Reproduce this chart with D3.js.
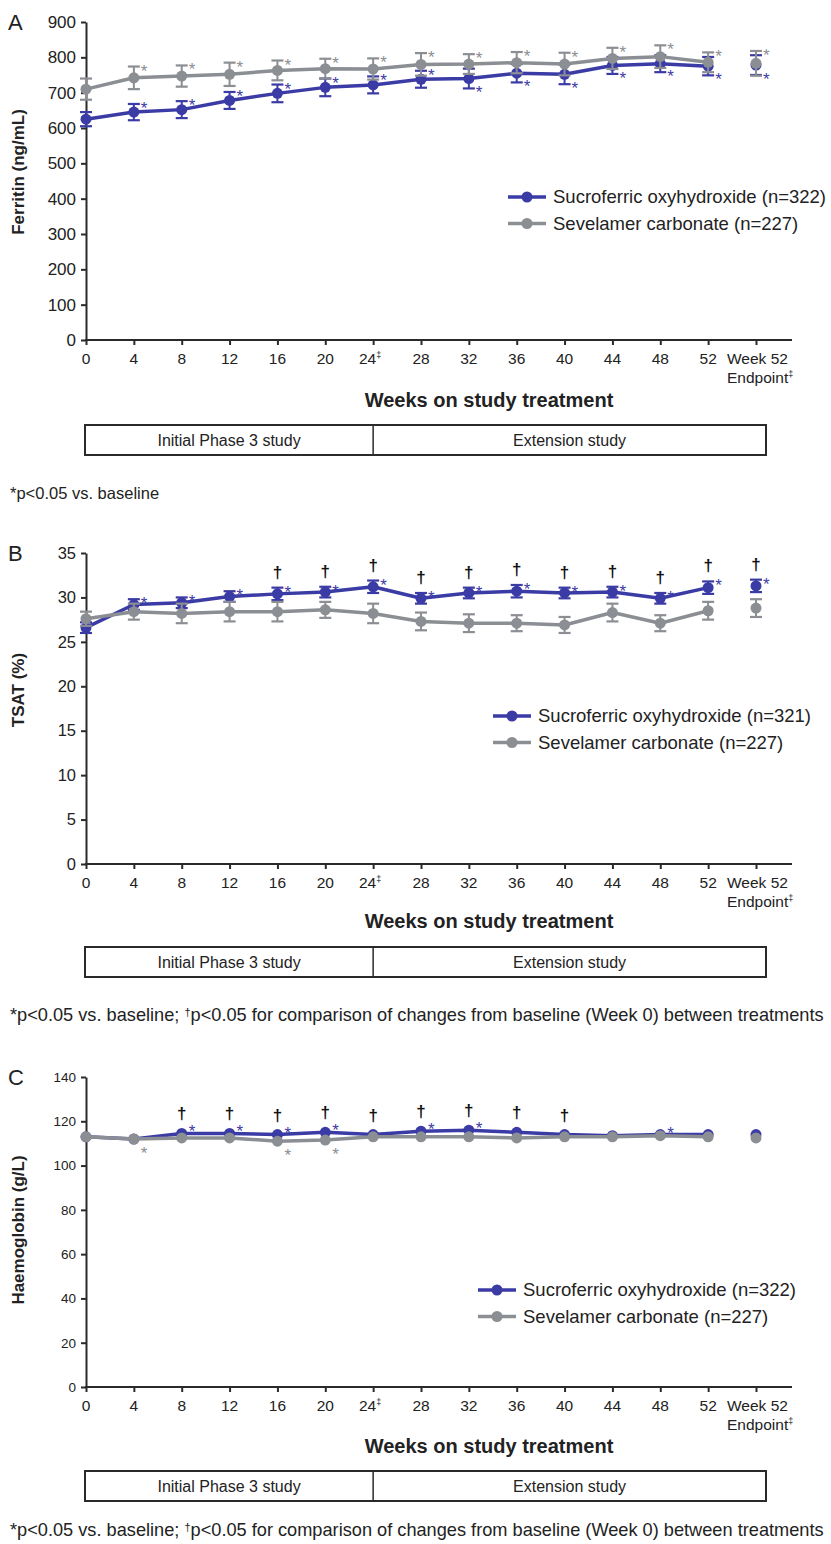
<!DOCTYPE html>
<html>
<head>
<meta charset="utf-8">
<script src="https://cdn.jsdelivr.net/npm/d3@7"></script>
<style>
  body { margin: 0; background: #fff; }
  text { font-family: Arial, "Liberation Sans", sans-serif; fill: #222; }
</style>
</head>
<body>
<div id="chart"></div>
<script>
var width  = 831;
var height = 1544;

// categories on the x axis
var weeks = ["0","4","8","12","16","20","24","28","32","36","40","44","48","52","EP"];

// A: ferritin (ng/mL), mean and error half-width
var ferritinSucro    = [625,645,652,678,698,715,722,738,740,755,752,777,782,775,778];
var ferritinSucroErr = [20,23,24,24,25,25,24,24,28,26,28,24,24,26,28];
var ferritinSevel    = [710,742,747,752,763,768,767,780,781,785,781,797,802,786,783];
var ferritinSevelErr = [30,32,30,33,28,28,30,32,28,30,32,30,32,28,35];
// significance marks: "t" above the bar, "b" below the bar
var ferritinSucroStar = ["","t","t","t","t","t","t","t","b","b","b","b","b","b","b"];
var ferritinSevelStar = ["","t","t","t","t","t","t","t","t","t","t","t","t","t","t"];

// B: TSAT (%)
var tsatSucro    = [26.6,29.2,29.4,30.1,30.4,30.6,31.2,29.9,30.5,30.7,30.5,30.6,29.9,31.1,31.3];
var tsatSucroErr = [0.6,0.6,0.6,0.6,0.7,0.6,0.7,0.6,0.6,0.7,0.6,0.6,0.6,0.7,0.7];
var tsatSevel    = [27.6,28.4,28.2,28.4,28.4,28.6,28.2,27.3,27.1,27.1,26.9,28.3,27.1,28.5,28.8];
var tsatSevelErr = [0.8,0.9,1.1,1.1,1.1,0.9,1.1,1.0,1.0,0.9,0.9,1.0,0.9,1.0,1.0];
var tsatSucroStar = ["","t","t","t","t","t","t","t","t","t","t","t","t","t","t"];
var tsatSevelStar = ["","","","","","","","","","","","","","",""];
var tsatDagger    = [0,0,0,0,1,1,1,1,1,1,1,1,1,1,1];

// C: haemoglobin (g/L)
var hbSucro = [113,112,114.5,114.5,114,115,114,115.5,116,115,114,113.5,114,114,114];
var hbSevel = [113,112,112.5,112.5,111,111.5,113,113,113,112.5,113,113,113.5,113,112.5];
var hbSucroStar = ["","","t","t","t","t","","t","t","","","","t","",""];
var hbSevelStar = ["","b","","","b","b","","","","","","","","",""];
var hbDagger    = [0,0,1,1,1,1,1,1,1,1,1,0,0,0,0];

var blue = "#3b3ba6";
var grey = "#8b8e93";
var axisColor = "#2a2a2a";

var svg = d3.select("#chart").append("svg")
  .attr("width", width)
  .attr("height", height);

var x = d3.scalePoint().domain(weeks).range([86, 756]);

function drawPanel(p) {
  var g = svg.append("g");
  var y = d3.scaleLinear().domain([0, p.max]).range([p.y0, p.yTop]);

  // panel letter
  g.append("text").attr("x", 8).attr("y", p.yTop + 8)
    .style("font-size", "22px").text(p.letter);

  // y axis
  var yAxis = g.append("g")
    .attr("transform", "translate(86,0)")
    .call(d3.axisLeft(y).tickValues(d3.range(0, p.max + 1, p.step))
      .tickSize(5).tickSizeOuter(0).tickPadding(5));
  yAxis.selectAll("path,line").attr("stroke", axisColor).attr("stroke-width", 2);
  yAxis.selectAll("text").style("font-size", p.yFont + "px").attr("fill", "#222");

  // y title
  g.append("text")
    .attr("transform", "translate(24," + p.titleY + ") rotate(-90)")
    .attr("text-anchor", "middle")
    .style("font-size", "17px").style("font-weight", "bold")
    .text(p.yTitle);

  // x axis
  var xAxis = g.append("g")
    .attr("transform", "translate(0," + p.y0 + ")")
    .call(d3.axisBottom(x).tickSize(5).tickFormat(""));
  xAxis.select(".domain").remove();
  xAxis.selectAll("line").attr("stroke", axisColor).attr("stroke-width", 2);
  g.append("line")
    .attr("x1", 85).attr("x2", 792).attr("y1", p.y0).attr("y2", p.y0)
    .attr("stroke", axisColor).attr("stroke-width", 2);

  weeks.forEach(function(w) {
    if (w === "EP") {
      g.append("text").attr("x", x(w) - 29).attr("y", p.y0 + 24)
        .style("font-size", "15.5px").text("Week 52");
      var t = g.append("text").attr("x", x(w) - 29).attr("y", p.y0 + 43)
        .style("font-size", "15.5px").text("Endpoint");
      t.append("tspan").attr("dy", -6).style("font-size", "9px").text("\u2021");
    } else {
      var t2 = g.append("text").attr("x", x(w)).attr("y", p.y0 + 24)
        .attr("text-anchor", "middle").style("font-size", "15.5px").text(w);
      if (w === "24") {
        t2.attr("x", x(w) - 3);
        t2.append("tspan").attr("dy", -6).style("font-size", "9px").text("\u2021");
      }
    }
  });

  g.append("text").attr("x", 489).attr("y", p.y0 + p.xTitleDy)
    .attr("text-anchor", "middle")
    .style("font-size", "20px").style("font-weight", "bold")
    .text("Weeks on study treatment");

  // study phase box
  var bx0 = 85, bx1 = 766, bxm = x("24");
  g.append("rect").attr("x", bx0).attr("y", p.boxY).attr("width", bx1 - bx0).attr("height", 30)
    .attr("fill", "none").attr("stroke", axisColor).attr("stroke-width", 2);
  g.append("line").attr("x1", bxm).attr("x2", bxm).attr("y1", p.boxY).attr("y2", p.boxY + 30)
    .attr("stroke", axisColor).attr("stroke-width", 1.5);
  g.append("text").attr("x", (bx0 + bxm) / 2).attr("y", p.boxY + 21)
    .attr("text-anchor", "middle").style("font-size", "16px").text("Initial Phase 3 study");
  g.append("text").attr("x", (bxm + bx1) / 2).attr("y", p.boxY + 21)
    .attr("text-anchor", "middle").style("font-size", "16px").text("Extension study");

  // footnote
  var fn = g.append("text").attr("x", 10).attr("y", p.noteY)
    .style("font-size", (p.fullNote ? 18.2 : 16.5) + "px");
  fn.append("tspan").text("*p<0.05 vs. baseline");
  if (p.fullNote) {
    fn.append("tspan").text("; ");
    fn.append("tspan").attr("dy", -5).style("font-size", "11px").text("\u2020");
    fn.append("tspan").attr("dy", 5)
      .text("p<0.05 for comparison of changes from baseline (Week 0) between treatments");
  }

  // series
  var line = d3.line()
    .x(function(d, i) { return x(weeks[i]); })
    .y(function(d) { return y(d); });

  p.series.forEach(function(s) {
    var pts = s.values.slice(0, 14);
    g.append("path").datum(pts).attr("d", line)
      .attr("fill", "none").attr("stroke", s.color).attr("stroke-width", 3.5)
      .attr("stroke-linejoin", "round");

    if (s.err) {
      s.values.forEach(function(v, i) {
        var cx = x(weeks[i]), top = y(v + s.err[i]), bot = y(v - s.err[i]);
        g.append("line").attr("x1", cx).attr("x2", cx).attr("y1", top).attr("y2", bot)
          .attr("stroke", s.color).attr("stroke-width", 2);
        [top, bot].forEach(function(yy) {
          g.append("line").attr("x1", cx - 6).attr("x2", cx + 6).attr("y1", yy).attr("y2", yy)
            .attr("stroke", s.color).attr("stroke-width", 2.2);
        });
      });
    }

    g.selectAll(null).data(s.values).enter().append("circle")
      .attr("cx", function(d, i) { return x(weeks[i]); })
      .attr("cy", function(d) { return y(d); })
      .attr("r", 5.5).attr("fill", s.color);

    s.stars.forEach(function(f, i) {
      if (!f) return;
      var v = s.values[i], cy;
      if (s.err) cy = f === "t" ? y(v + s.err[i]) : y(v - s.err[i]);
      else cy = f === "t" ? y(v) - 6 : y(v) + 10;
      g.append("text").attr("x", x(weeks[i]) + 7).attr("y", cy + 10)
        .style("font-size", "17px").style("fill", s.color).text("*");
    });
  });

  // daggers
  if (p.dagger) {
    var s0 = p.series[0];
    p.dagger.forEach(function(f, i) {
      if (!f) return;
      var v = s0.values[i];
      var top = s0.err ? y(v + s0.err[i]) : y(v) - 4;
      g.append("text").attr("x", x(weeks[i])).attr("y", top - 10)
        .attr("text-anchor", "middle")
        .style("font-size", "17px").style("font-weight", "bold").style("fill", "#111")
        .text("\u2020");
    });
  }

  // legend
  p.legend.forEach(function(l, k) {
    var ly = p.legY + k * 26.5;
    g.append("line").attr("x1", p.legX).attr("x2", p.legX + 38).attr("y1", ly).attr("y2", ly)
      .attr("stroke", l.color).attr("stroke-width", 3.5);
    g.append("circle").attr("cx", p.legX + 19).attr("cy", ly).attr("r", 5.5).attr("fill", l.color);
    g.append("text").attr("x", p.legX + 45).attr("y", ly + 6)
      .style("font-size", "18.5px").text(l.label);
  });
}

drawPanel({
  letter: "A", yTop: 22, y0: 340, max: 900, step: 100, yFont: 17,
  yTitle: "Ferritin (ng/mL)", titleY: 172,
  xTitleDy: 67, boxY: 425, noteY: 499, fullNote: false,
  legX: 508, legY: 197,
  series: [
    { values: ferritinSucro, err: ferritinSucroErr, color: blue, stars: ferritinSucroStar },
    { values: ferritinSevel, err: ferritinSevelErr, color: grey, stars: ferritinSevelStar }
  ],
  legend: [
    { label: "Sucroferric oxyhydroxide (n=322)", color: blue },
    { label: "Sevelamer carbonate (n=227)", color: grey }
  ]
});

drawPanel({
  letter: "B", yTop: 553, y0: 864, max: 35, step: 5, yFont: 16.5,
  yTitle: "TSAT (%)", titleY: 690,
  xTitleDy: 64, boxY: 947, noteY: 1021, fullNote: true,
  legX: 493, legY: 716,
  series: [
    { values: tsatSucro, err: tsatSucroErr, color: blue, stars: tsatSucroStar },
    { values: tsatSevel, err: tsatSevelErr, color: grey, stars: tsatSevelStar }
  ],
  dagger: tsatDagger,
  legend: [
    { label: "Sucroferric oxyhydroxide (n=321)", color: blue },
    { label: "Sevelamer carbonate (n=227)", color: grey }
  ]
});

drawPanel({
  letter: "C", yTop: 1077, y0: 1387, max: 140, step: 20, yFont: 13.5,
  yTitle: "Haemoglobin (g/L)", titleY: 1230,
  xTitleDy: 66, boxY: 1471, noteY: 1536, fullNote: true,
  legX: 478, legY: 1290,
  series: [
    { values: hbSucro, err: null, color: blue, stars: hbSucroStar },
    { values: hbSevel, err: null, color: grey, stars: hbSevelStar }
  ],
  dagger: hbDagger,
  legend: [
    { label: "Sucroferric oxyhydroxide (n=322)", color: blue },
    { label: "Sevelamer carbonate (n=227)", color: grey }
  ]
});
</script>
</body>
</html>
